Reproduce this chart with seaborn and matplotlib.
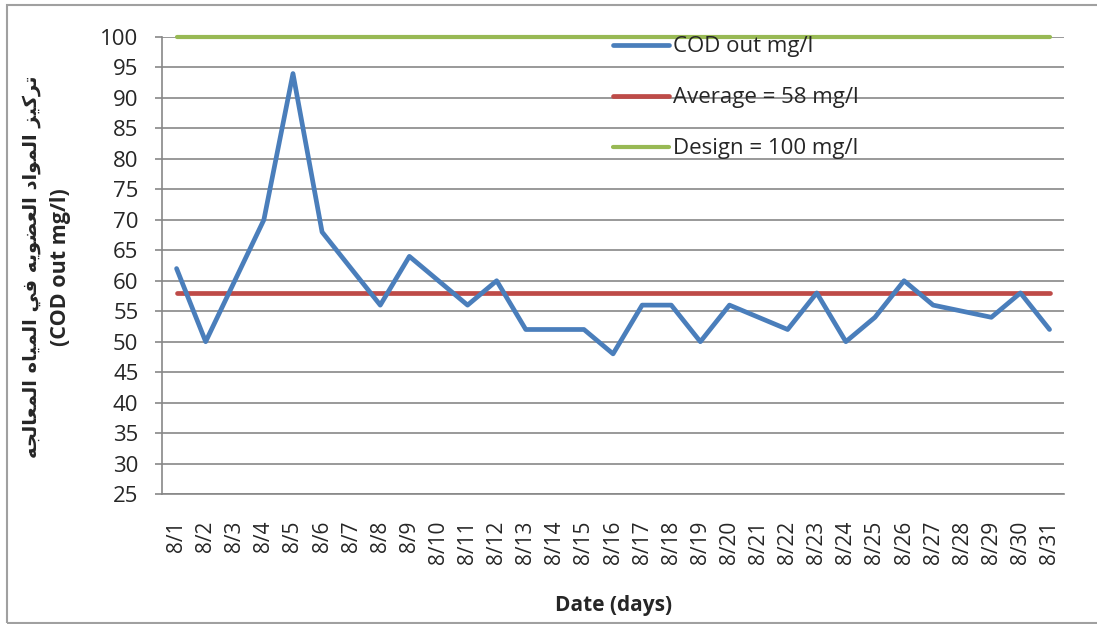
import numpy as np
import pandas as pd
import matplotlib
matplotlib.use("Agg")
import matplotlib.pyplot as plt
import seaborn as sns

# ---------------- data ----------------
days = [f"8/{d}" for d in range(1, 32)]
cod_out = [62, 50, 60, 70, 94, 68, 62, 56, 64, 60, 56, 60, 52, 52, 52, 48,
           56, 56, 50, 56, 54, 52, 58, 50, 54, 60, 56, 55, 54, 58, 52]
average_value = 58
design_value = 100
series_labels = ["COD out mg/l", "Average = 58 mg/l", "Design = 100 mg/l"]
y_ticks = list(range(25, 101, 5))
xlabel = "Date (days)"
ylabel_ar = "تركيز المواد العضويه في المياه المعالجه"
ylabel_en = "(COD out mg/l)"

# ---------------- minimal Arabic shaping (matplotlib has no bidi/shaping) ----------------
FORMS = {  # isolated, final, initial, medial
    "ا": ("\uFE8D", "\uFE8E", None, None),
    "ت": ("\uFE95", "\uFE96", "\uFE97", "\uFE98"),
    "ج": ("\uFE9D", "\uFE9E", "\uFE9F", "\uFEA0"),
    "د": ("\uFEA9", "\uFEAA", None, None),
    "ر": ("\uFEAD", "\uFEAE", None, None),
    "ز": ("\uFEAF", "\uFEB0", None, None),
    "ض": ("\uFEBD", "\uFEBE", "\uFEBF", "\uFEC0"),
    "ع": ("\uFEC9", "\uFECA", "\uFECB", "\uFECC"),
    "ف": ("\uFED1", "\uFED2", "\uFED3", "\uFED4"),
    "ك": ("\uFED9", "\uFEDA", "\uFEDB", "\uFEDC"),
    "ل": ("\uFEDD", "\uFEDE", "\uFEDF", "\uFEE0"),
    "م": ("\uFEE1", "\uFEE2", "\uFEE3", "\uFEE4"),
    "ه": ("\uFEE9", "\uFEEA", "\uFEEB", "\uFEEC"),
    "و": ("\uFEED", "\uFEEE", None, None),
    "ي": ("\uFEF1", "\uFEF2", "\uFEF3", "\uFEF4"),
}


def shape_arabic(text):
    out = []
    n = len(text)
    for i, c in enumerate(text):
        if c not in FORMS:
            out.append(c)
            continue
        prev = text[i - 1] if i > 0 else None
        nxt = text[i + 1] if i < n - 1 else None
        prev_joins = prev in FORMS and FORMS[prev][2] is not None
        dual = FORMS[c][2] is not None
        next_joins = dual and nxt in FORMS
        iso, fin, ini, med = FORMS[c]
        if prev_joins and next_joins:
            out.append(med)
        elif prev_joins:
            out.append(fin)
        elif next_joins:
            out.append(ini)
        else:
            out.append(iso)
    return "".join(out)[::-1]


# ---------------- style ----------------
sns.set_style("white")
plt.rcParams["font.family"] = ["Open Sans", "DejaVu Sans"]

blue = "#4A7EBB"
red = "#BE4B48"
green = "#98B954"
grid_c = "#878787"

df = pd.DataFrame({
    "day": days,
    "cod": cod_out,
    "avg": [average_value] * len(days),
    "design": [design_value] * len(days),
})

fig = plt.figure(figsize=(10.97, 6.24), dpi=100)
ax = fig.add_axes([0.1477, 0.2083, 0.8223, 0.7324])

sns.lineplot(data=df, x="day", y="cod", ax=ax, color=blue, lw=3.4,
             label=series_labels[0], sort=False, zorder=5)
sns.lineplot(data=df, x="day", y="avg", ax=ax, color=red, lw=3.4,
             label=series_labels[1], sort=False, zorder=4)
sns.lineplot(data=df, x="day", y="design", ax=ax, color=green, lw=3.0,
             label=series_labels[2], sort=False, zorder=4)
for ln in ax.get_lines():
    ln.set_clip_on(False)
    ln.set_solid_capstyle("round")

ax.set_xlim(-0.5, len(days) - 0.5)
ax.set_ylim(25, 100)
ax.set_yticks(y_ticks)
ax.yaxis.grid(True, color=grid_c, lw=1.2)
ax.xaxis.grid(False)
for s in ["top", "right"]:
    ax.spines[s].set_visible(False)
for s in ["left", "bottom"]:
    ax.spines[s].set_color(grid_c)
    ax.spines[s].set_linewidth(1.2)

ax.tick_params(axis="y", direction="out", length=5, width=1.2, color=grid_c,
               pad=12, labelsize=16, left=True)
ax.tick_params(axis="x", length=0, pad=19, labelsize=15, rotation=90)
for lab in ax.get_xticklabels():
    lab.set_va("top")

ax.set_xlabel("")
ax.set_ylabel("")

fig.text(0.5597, 0.029, xlabel, ha="center", va="center", fontsize=15,
         fontweight="bold")
fig.text(0.055, 0.572, ylabel_en, ha="center", va="center", rotation=90,
         fontsize=15.5, fontweight="bold")
fig.text(0.029, 0.572, shape_arabic(ylabel_ar), ha="center", va="center",
         rotation=90, fontsize=14, fontweight="bold", family="DejaVu Sans")

leg = ax.legend(loc="upper left", bbox_to_anchor=(0.4906, 1.021), frameon=False,
                fontsize=16, handlelength=2.5, handletextpad=0.2,
                labelspacing=1.35, borderaxespad=0)
leg.set_zorder(10)

# outer chart border
fig.add_artist(plt.Rectangle((0.0064, 0.0016), 1.2, 0.990, transform=fig.transFigure,
                             fill=False, edgecolor="#A0A0A0", lw=1.5))

fig.savefig("out.png", dpi=100)
